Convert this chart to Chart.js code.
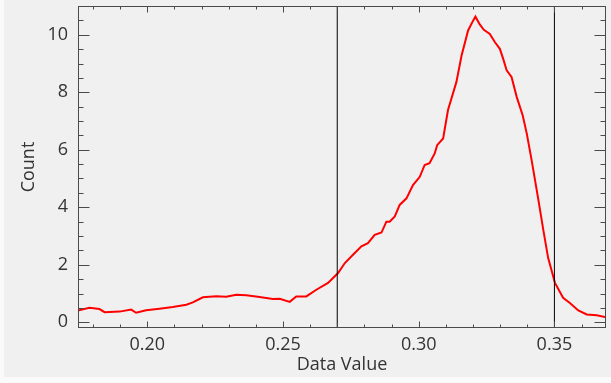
<!DOCTYPE html>
<html>
<head>
<meta charset="utf-8">
<script src="https://cdn.jsdelivr.net/npm/chart.js@4/dist/chart.umd.min.js"></script>
<style>
  html, body { margin: 0; padding: 0; background: #fafafa; }
  #wrap { width: 611px; height: 383px; position: relative; }
</style>
</head>
<body>
<div id="wrap"><canvas id="c" width="611" height="383"></canvas></div>
<script>
// ---- data ----
const dataValues = [0.1744,0.1787,0.1824,0.1843,0.1898,0.1941,0.1959,0.1996,0.2045,0.2094,0.2144,0.2168,0.2205,0.2254,0.2291,0.2328,0.2365,0.2414,0.2463,0.2488,0.2525,0.2549,0.2586,0.2623,0.2666,0.2703,0.2728,0.2758,0.2789,0.2813,0.2838,0.2863,0.2881,0.2893,0.2912,0.2930,0.2955,0.2979,0.3004,0.3022,0.3040,0.3059,0.3068,0.3090,0.3108,0.3139,0.3158,0.3182,0.3201,0.3209,0.3225,0.3240,0.3262,0.3281,0.3299,0.3311,0.3324,0.3342,0.3361,0.3383,0.3398,0.3416,0.3440,0.3459,0.3477,0.3502,0.3532,0.3557,0.3588,0.3619,0.3656,0.3692];
const counts = [0.41,0.50,0.46,0.35,0.37,0.44,0.33,0.42,0.47,0.53,0.61,0.69,0.87,0.90,0.89,0.96,0.94,0.88,0.81,0.82,0.71,0.90,0.90,1.13,1.37,1.71,2.06,2.35,2.64,2.75,3.04,3.12,3.50,3.50,3.68,4.08,4.31,4.77,5.06,5.47,5.53,5.87,6.16,6.39,7.38,8.36,9.28,10.15,10.50,10.63,10.36,10.17,10.03,9.74,9.51,9.17,8.76,8.53,7.84,7.20,6.57,5.64,4.31,3.21,2.23,1.37,0.85,0.67,0.41,0.27,0.24,0.17];
const markerLines = [0.27, 0.35];
const xTickLabels = [0.20, 0.25, 0.30, 0.35];
const xMinorTicks = [0.18,0.19,0.21,0.22,0.23,0.24,0.26,0.27,0.28,0.29,0.31,0.32,0.33,0.34,0.36];
const yTickLabels = [0, 2, 4, 6, 8, 10];
const yMinorTicks = [0.5,1,1.5,2.5,3,3.5,4.5,5,5.5,6.5,7,7.5,8.5,9,9.5,10.5];
const xRange = [0.1745, 0.369];
const yRange = [-0.2, 11];
// ---------------------------------------

const textColor = '#333333';
const fontFamily = '"Open Sans", sans-serif';

const series = dataValues.map((v, i) => ({ x: v, y: counts[i] }));
const markerSets = markerLines.map(v => ({
  data: [{ x: v, y: yRange[0] }, { x: v, y: yRange[1] }],
  borderColor: '#000000', borderWidth: 1, pointRadius: 0, tension: 0, fill: false
}));

const panel = {
  id: 'panel',
  beforeDraw(chart) {
    const ctx = chart.ctx;
    ctx.save();
    ctx.fillStyle = '#fafafa';
    ctx.fillRect(0, 0, chart.width, chart.height);
    ctx.fillStyle = '#f0f0f0';
    ctx.fillRect(4, 0, chart.width - 4, 377);
    ctx.restore();
  }
};

const frame = {
  id: 'frame',
  afterDatasetsDraw(chart) {
    const { ctx, chartArea: a, scales: { x, y } } = chart;
    ctx.save();
    ctx.strokeStyle = '#4a4a4a';
    ctx.lineWidth = 1;
    const L = Math.round(a.left) + 0.5, R = Math.round(a.right) - 0.5;
    const T = Math.round(a.top) + 0.5, B = Math.round(a.bottom) - 0.5;
    ctx.strokeRect(L, T, R - L, B - T);
    ctx.beginPath();
    const xt = (v, len) => {
      const px = Math.round(x.getPixelForValue(v)) + 0.5;
      ctx.moveTo(px, B); ctx.lineTo(px, B - len);
      ctx.moveTo(px, T); ctx.lineTo(px, T + len);
    };
    const yt = (v, len) => {
      const py = Math.round(y.getPixelForValue(v)) + 0.5;
      ctx.moveTo(L, py); ctx.lineTo(L + len, py);
      ctx.moveTo(R, py); ctx.lineTo(R - len, py);
    };
    xTickLabels.forEach(v => xt(v, 6));
    xMinorTicks.forEach(v => xt(v, 3));
    yTickLabels.forEach(v => yt(v, 11));
    yMinorTicks.forEach(v => yt(v, 5));
    ctx.stroke();
    ctx.restore();
  }
};

new Chart(document.getElementById('c'), {
  type: 'line',
  data: {
    datasets: [
      ...markerSets,
      { data: series, borderColor: '#ff0000', borderWidth: 2, pointRadius: 0, tension: 0, fill: false }
    ]
  },
  options: {
    responsive: false,
    animation: false,
    devicePixelRatio: 1,
    layout: { padding: { top: 6, right: 5, left: 0, bottom: 0 } },
    plugins: { legend: { display: false }, tooltip: { enabled: false } },
    scales: {
      x: {
        type: 'linear',
        min: xRange[0], max: xRange[1],
        afterBuildTicks(s) { s.ticks = xTickLabels.map(v => ({ value: v })); },
        afterFit(s) { s.height = 55; s.paddingLeft = 0; s.paddingRight = 0; },
        grid: { display: false, drawTicks: false },
        border: { display: false },
        ticks: {
          padding: 6, color: textColor, maxRotation: 0, autoSkip: false,
          font: { family: fontFamily, size: 18 },
          callback: v => v.toFixed(2)
        },
        title: {
          display: true, text: 'Data Value', color: textColor,
          font: { family: fontFamily, size: 18 },
          padding: { top: 0, bottom: 7 }
        }
      },
      y: {
        type: 'linear',
        min: yRange[0], max: yRange[1],
        afterBuildTicks(s) { s.ticks = yTickLabels.map(v => ({ value: v })); },
        afterFit(s) { s.width = 78; s.paddingTop = 0; s.paddingBottom = 0; },
        grid: { display: false, drawTicks: false },
        border: { display: false },
        ticks: {
          padding: 10, color: textColor, autoSkip: false,
          font: { family: fontFamily, size: 18 },
          callback: v => String(v)
        },
        title: {
          display: true, text: 'Count', color: textColor,
          font: { family: fontFamily, size: 18 },
          padding: { top: 18, bottom: 0 }
        }
      }
    }
  },
  plugins: [panel, frame]
});
</script>
</body>
</html>
